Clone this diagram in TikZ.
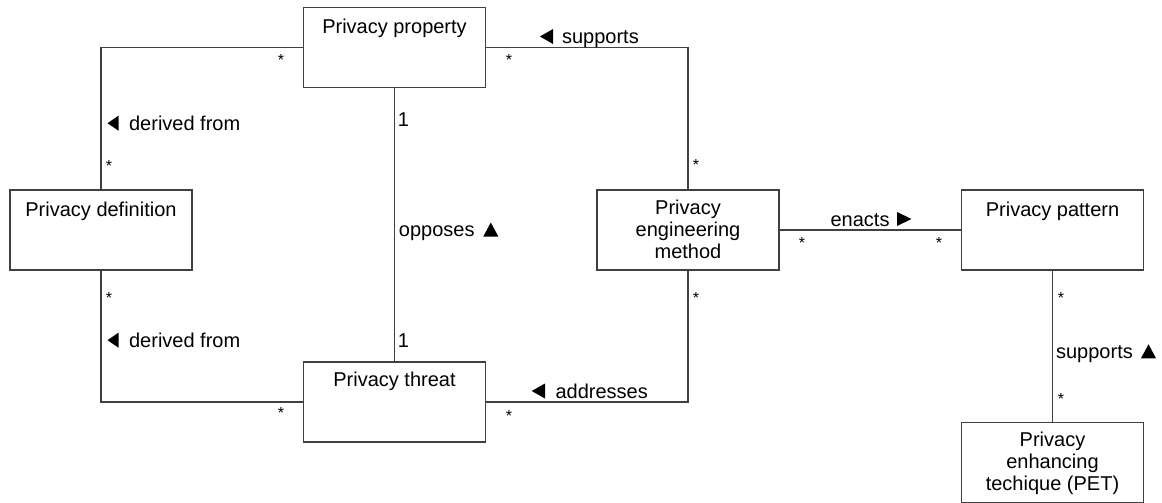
\documentclass[tikz,border=0pt]{standalone}
\usepackage{fontspec}
\setmainfont{Liberation Sans}
\begin{document}
\begin{tikzpicture}[x=1pt,y=-1pt,
  line width=1.2pt,
  box/.style={draw=black!75, fill=white, minimum width=182pt, minimum height=80pt, inner sep=0pt},
  ttl/.style={anchor=north, inner sep=0pt, font=\fontsize{20}{22}\selectfont},
  mline/.style={inner sep=0pt, align=center, font=\fontsize{20}{22}\selectfont},
  lbl/.style={anchor=base west, inner sep=0pt, font=\fontsize{20}{22}\selectfont},
  mult/.style={anchor=north, inner sep=0pt, font=\fontsize{16}{18}\selectfont},
  one/.style={anchor=north, inner sep=0pt, font=\fontsize{20}{22}\selectfont},
  conn/.style={draw=black!75},
  tri/.style={fill=black, draw=none}]
\useasboundingbox (0,0) rectangle (1162,503);

% boxes
\node[box] (prop) at (394.5,47.5) {};
\node[box] (def)  at (101,230) {};
\node[box] (meth) at (688,230) {};
\node[box] (pat)  at (1052.5,230) {};
\node[box] (thr)  at (394.5,402) {};
\node[box] (pet)  at (1052.5,462.5) {};

% titles
\node[ttl] (propT) at (394.5,18) {Privacy property};
\node[ttl] (defT)  at (101,201.7) {Privacy definition};
\node[ttl] (patT)  at (1052.5,201.7) {Privacy pattern};
\node[ttl] (thrT)  at (394.5,371.7) {Privacy threat};
\node[mline] (methT) at (688,229) {Privacy\\engineering\\method};
\node[mline] (petT)  at (1052.5,463) {Privacy\\enhancing\\techique (PET)};

% connectors
\draw[conn] (prop.west) -| (def.north);
\draw[conn] (def.south) |- (thr.west);
\draw[conn] (prop.south) -- (thr.north);
\draw[conn] (prop.east) -| (meth.north);
\draw[conn] (thr.east) -| (meth.south);
\draw[conn] (meth.east) -- (pat.west);
\draw[conn] (pat.south) -- (pet.north);

% multiplicities
\node[mult] (m1)  at (281,53.5) {*};
\node[mult] (m2)  at (109,159.5) {*};
\node[mult] (m3)  at (109,291.5) {*};
\node[mult] (m4)  at (281,406.5) {*};
\node[mult] (m5)  at (509,53.5) {*};
\node[mult] (m6)  at (696,158.5) {*};
\node[mult] (m7)  at (509,409.5) {*};
\node[mult] (m8)  at (696,291.5) {*};
\node[mult] (m9)  at (802,236.5) {*};
\node[mult] (m10) at (939,236.5) {*};
\node[mult] (m11) at (1061,291.5) {*};
\node[mult] (m12) at (1061,392.5) {*};
\node[one] (o1) at (403.5,111.7) {1};
\node[one] (o2) at (403.5,332.7) {1};

% association labels
\node[lbl] (l1) at (128.5,130.7) {derived from};
\fill[tri] (107.5,123.2) -- (118.5,115.7) -- (118.5,130.7) -- cycle;
\node[lbl] (l2) at (128.5,347.7) {derived from};
\fill[tri] (107.5,340.2) -- (118.5,332.7) -- (118.5,347.7) -- cycle;
\node[lbl] (l3) at (561.5,44) {supports};
\fill[tri] (540,36.5) -- (553,29) -- (553,44) -- cycle;
\node[lbl] (l4) at (555,398.7) {addresses};
\fill[tri] (531.7,391) -- (545,383.5) -- (545,398.5) -- cycle;
\node[lbl] (l5) at (830,226) {enacts};
\fill[tri] (897,212) -- (911.5,219) -- (897,226) -- cycle;
\node[lbl] (l6) at (398.3,236.7) {opposes};
\fill[tri] (483.3,236.5) -- (498.3,236.5) -- (490.8,222.5) -- cycle;
\node[lbl] (l7) at (1055.5,358.3) {supports};
\fill[tri] (1141,358.3) -- (1156,358.3) -- (1148.5,344.3) -- cycle;
\end{tikzpicture}
\end{document}
